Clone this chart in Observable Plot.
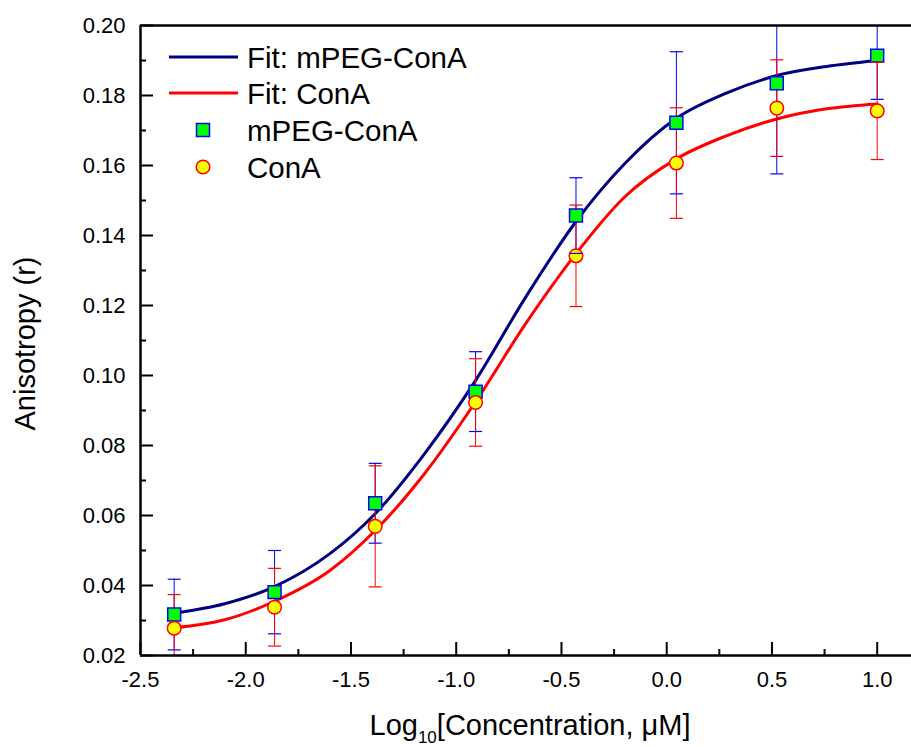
<!DOCTYPE html>
<html><head><meta charset="utf-8">
<script src="https://cdn.jsdelivr.net/npm/d3@7"></script>
<script src="https://cdn.jsdelivr.net/npm/@observablehq/plot@0.6"></script>
<style>body{margin:0;background:#fff;overflow:hidden;} svg{display:block;}</style>
</head><body><div id="chart"></div>
<script>
// ---- data ----
const logConc  = [-2.34, -1.863, -1.385, -0.908, -0.431, 0.046, 0.523, 1.0];
const mpegMean = [0.0317, 0.0381, 0.0635, 0.0954, 0.1457, 0.1722, 0.1835, 0.1914];
const mpegErr  = [0.0101, 0.0119, 0.0114, 0.0114, 0.0108, 0.0203, 0.0259, 0.0125];
const conaMean = [0.0278, 0.0338, 0.0569, 0.0923, 0.1342, 0.1607, 0.1764, 0.1756];
const conaErr  = [0.0096, 0.0111, 0.0173, 0.0125, 0.0145, 0.0158, 0.0138, 0.0139];
const fitX     = [-2.34, -2.1, -1.863, -1.6, -1.385, -1.15, -0.908, -0.67, -0.431, -0.2, 0.046, 0.28, 0.523, 0.76, 1.0];
const fitMpeg  = [0.0321, 0.0348, 0.0397, 0.0491, 0.0605, 0.0777, 0.0986, 0.1224, 0.1440, 0.1605, 0.1735, 0.1806, 0.1857, 0.1883, 0.1900];
const fitCona  = [0.0279, 0.0302, 0.0355, 0.0443, 0.0557, 0.0720, 0.0925, 0.1148, 0.1348, 0.1510, 0.1619, 0.1684, 0.1733, 0.1762, 0.1776];
const xTicks      = [-2.5, -2.0, -1.5, -1.0, -0.5, 0.0, 0.5, 1.0];
const xMinorTicks = [-2.25, -1.75, -1.25, -0.75, -0.25, 0.25, 0.75];
const yTicks      = [0.02, 0.04, 0.06, 0.08, 0.10, 0.12, 0.14, 0.16, 0.18, 0.20];
const yMinorTicks = [0.03, 0.05, 0.07, 0.09, 0.11, 0.13, 0.15, 0.17, 0.19];
const xTitle = "Log10[Concentration, μM]";
const yTitle = "Anisotropy (r)";
const legendLabels = ["Fit: mPEG-ConA", "Fit: ConA", "mPEG-ConA", "ConA"];

// ---- tables ----
const mpeg = logConc.map((x, i) => ({x, y: mpegMean[i], e: mpegErr[i]}));
const cona = logConc.map((x, i) => ({x, y: conaMean[i], e: conaErr[i]}));
const fitM = fitX.map((x, i) => ({x, y: fitMpeg[i]}));
const fitC = fitX.map((x, i) => ({x, y: fitCona[i]}));
const capsOf = (arr) => arr.flatMap(d => [{x: d.x, y: d.y - d.e}, {x: d.x, y: d.y + d.e}]);

const W = 911, H = 747;
const mL = 140, mR = 0, mT = 25, mB = 92;
const plotW = W - mL - mR, plotH = H - mT - mB;
const FONT = "'Liberation Sans', Arial, Helvetica, sans-serif";
const NAVY = "#000080", RED = "#ff0000", BLUE = "#0000ff", GREEN = "#00ff00", YELLOW = "#ffff00";
const capSymbol = {draw(context) { const w = 6.5; context.moveTo(-w, 0); context.lineTo(w, 0); }};

const chart = Plot.plot({
  width: W, height: H,
  marginLeft: mL, marginRight: mR, marginTop: mT, marginBottom: mB,
  style: {fontFamily: FONT, fontSize: "22px", background: "#fff", color: "#000"},
  x: {domain: [-2.5, 1.163]},
  y: {domain: [0.02, 0.20]},
  marks: [
    // tick labels
    Plot.axisX({ticks: xTicks, tickSize: 0, tickPadding: 16, fontSize: 22, label: null, tickFormat: d => d.toFixed(1)}),
    Plot.axisY({ticks: yTicks, tickSize: 0, tickPadding: 15, fontSize: 22, label: null, tickFormat: d => d.toFixed(2)}),
    // inward ticks
    Plot.ruleX(xTicks, {x: d => d, insetTop: plotH - 13, stroke: "#000", strokeWidth: 2}),
    Plot.ruleX(xMinorTicks, {x: d => d, insetTop: plotH - 6, stroke: "#000", strokeWidth: 2}),
    Plot.ruleY(yTicks, {y: d => d, insetRight: plotW - 13, stroke: "#000", strokeWidth: 2}),
    Plot.ruleY(yMinorTicks, {y: d => d, insetRight: plotW - 6, stroke: "#000", strokeWidth: 2}),
    // fit curves
    Plot.line(fitM, {x: "x", y: "y", stroke: NAVY, strokeWidth: 3, curve: "monotone-x"}),
    Plot.line(fitC, {x: "x", y: "y", stroke: RED, strokeWidth: 3, curve: "monotone-x"}),
    // error bars
    Plot.ruleX(mpeg, {x: "x", y1: d => d.y - d.e, y2: d => d.y + d.e, stroke: BLUE, strokeWidth: 1, clip: true}),
    Plot.ruleX(cona, {x: "x", y1: d => d.y - d.e, y2: d => d.y + d.e, stroke: RED, strokeWidth: 1, clip: true}),
    // symbols
    Plot.dot(mpeg, {x: "x", y: "y", symbol: "square", r: 7.3, fill: GREEN, stroke: BLUE, strokeWidth: 1.5}),
    Plot.dot(cona, {x: "x", y: "y", symbol: "circle", r: 6.8, fill: YELLOW, stroke: RED, strokeWidth: 1.5}),
    // error bar caps
    Plot.dot(capsOf(mpeg), {x: "x", y: "y", symbol: capSymbol, r: 5, fill: "none", stroke: BLUE, strokeWidth: 1.2, clip: true}),
    Plot.dot(capsOf(cona), {x: "x", y: "y", symbol: capSymbol, r: 5, fill: "none", stroke: RED, strokeWidth: 1.2, clip: true}),
    // frame (left, bottom, top)
    Plot.ruleX([-2.5], {x: d => d, stroke: "#000", strokeWidth: 2.5}),
    Plot.ruleY([0.02, 0.20], {y: d => d, stroke: "#000", strokeWidth: 2.5}),
    // axis titles
    Plot.text([xTitle], {text: d => d, frameAnchor: "bottom", dx: 4, dy: 70, lineAnchor: "middle", textAnchor: "middle", fontSize: 29, fill: "#000"}),
    Plot.text([yTitle], {text: d => d, frameAnchor: "left", dx: -115, dy: 3, rotate: -90, lineAnchor: "middle", textAnchor: "middle", fontSize: 29, fill: "#000"})
  ]
});
document.getElementById("chart").appendChild(chart);

const svg = d3.select(chart);
// subscript for Log10
svg.selectAll("text").filter(function() { return this.textContent === xTitle; }).each(function() {
  const t = d3.select(this);
  t.text(null);
  t.append("tspan").text("Log");
  t.append("tspan").attr("font-size", 17).attr("dy", 8).text("10");
  t.append("tspan").attr("dy", -8).text("[Concentration, μM]");
});

// legend
const lg = svg.append("g");
const rowY = [57, 93, 130, 167];
const lineX1 = 169, lineX2 = 238, symX = 203, textX = 247;
lg.append("line").attr("x1", lineX1).attr("x2", lineX2).attr("y1", rowY[0]).attr("y2", rowY[0]).attr("stroke", NAVY).attr("stroke-width", 3);
lg.append("line").attr("x1", lineX1).attr("x2", lineX2).attr("y1", rowY[1]).attr("y2", rowY[1]).attr("stroke", RED).attr("stroke-width", 3);
lg.append("rect").attr("x", symX - 6.5).attr("y", rowY[2] - 6.5).attr("width", 13).attr("height", 13).attr("fill", GREEN).attr("stroke", BLUE).attr("stroke-width", 1.5);
lg.append("circle").attr("cx", symX).attr("cy", rowY[3]).attr("r", 6.8).attr("fill", YELLOW).attr("stroke", RED).attr("stroke-width", 1.5);
legendLabels.forEach((s, i) => {
  lg.append("text").attr("x", textX).attr("y", rowY[i]).attr("dy", "0.36em")
    .style("font-family", FONT).style("font-size", "29.5px").style("text-anchor", "start").attr("fill", "#000").text(s);
});
</script>
</body></html>
